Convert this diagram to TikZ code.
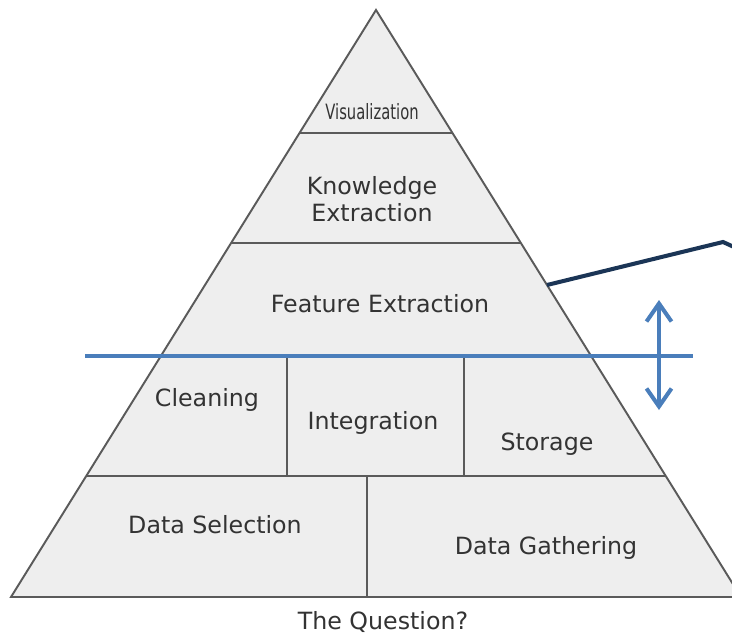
\documentclass[tikz,border=0pt]{standalone}
\usepackage{fontspec}
\setmainfont{DejaVu Sans}
\usepackage{tikz}
\usetikzlibrary{arrows.meta, positioning, calc}
\definecolor{layerfill}{HTML}{EEEEEE}
\definecolor{layerline}{HTML}{5A5A5A}
\definecolor{labeltext}{HTML}{333333}
\definecolor{cutblue}{HTML}{4A7EBB}
\definecolor{navy}{HTML}{1B3556}

\begin{document}
\begin{tikzpicture}[
    x=0.2mm, y=-0.2mm,
    layer/.style={draw=layerline, line width=1.1pt},
    lbl/.style={font=\fontsize{13.5}{16}\selectfont, text=labeltext, inner sep=0pt},
    cut/.style={draw=cutblue, line width=2.3pt},
]
    \useasboundingbox (0,0) rectangle (732,637);
    \clip (0,0) rectangle (732,637);

    % Pyramid outline
    \coordinate (apex) at (376,10);
    \coordinate (bl) at (11,597);
    \coordinate (br) at (741,597);
    \fill[layerfill] (apex) -- (bl) -- (br) -- cycle;

    % Layer borders
    \begin{scope}
        \clip (apex) -- (bl) -- (br) -- cycle;
        \draw[layer] (0,133) -- (732,133);
        \draw[layer] (0,243) -- (732,243);
        \draw[layer] (0,355) -- (732,355);
        \draw[layer] (0,476) -- (732,476);
    \end{scope}
    \draw[layer, line join=miter] (apex) -- (bl) -- (br) -- cycle;
    \draw[layer] (287,355) -- (287,476);
    \draw[layer] (464,355) -- (464,476);
    \draw[layer] (367,476) -- (367,597);

    % Labels
    \node[lbl] (vis) at (372,112) {\fontsize{12}{14}\selectfont\scalebox{0.7}[1]{Visualization}};
    \node[lbl, align=center] (know) at (372,199) {Knowledge\\[-1pt]Extraction};
    \node[lbl] (feat) at (380,304) {Feature Extraction};
    \node[lbl] (clean) at (207,400) {Cleaning};
    \node[lbl] (integ) at (373,423) {Integration};
    \node[lbl] (store) at (547,444) {Storage};
    \node[lbl] (sel) at (215,525) {Data Selection};
    \node[lbl] (gath) at (546,548) {Data Gathering};
    \node[lbl] (quest) at (383,622) {The Question?};

    % Callout line
    \coordinate (calla) at (547,285);
    \coordinate (callb) at (723,242);
    \coordinate (callc) at (734,247);
    \draw[navy, line width=2.3pt, line join=miter] (calla) -- (callb) -- (callc);

    % Cut line and shift arrow
    \coordinate (cutl) at (85,356);
    \coordinate (cutr) at (693,356);
    \draw[cut] (cutl) -- (cutr);
    \coordinate (arrt) at (659,300);
    \coordinate (arrb) at (659,410);
    \draw[cut, {Straight Barb[length=3.6mm, width=5mm]}-{Straight Barb[length=3.6mm, width=5mm]}] (arrt) -- (arrb);
\end{tikzpicture}
\end{document}
